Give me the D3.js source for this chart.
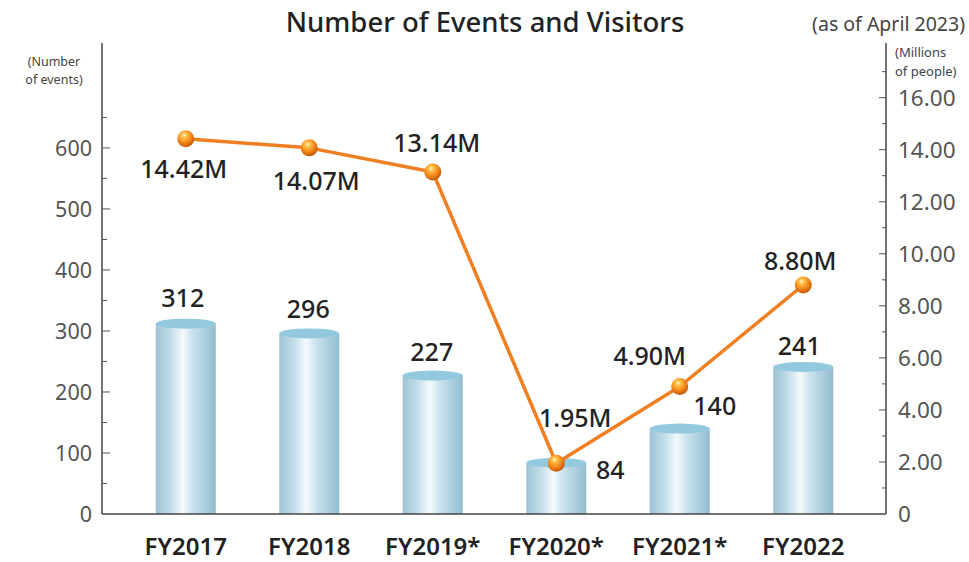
<!DOCTYPE html>
<html>
<head>
<meta charset="utf-8">
<script src="https://cdn.jsdelivr.net/npm/d3@7"></script>
<style>
    body { margin: 0; background: #fff; }
    svg { display: block; font-family: "Noto Sans", sans-serif; }
</style>
</head>
<body>
<div id="chart"></div>
<script>
// Number of events (bars) and visitors in millions (line)
const years = ['FY2017', 'FY2018', 'FY2019*', 'FY2020*', 'FY2021*', 'FY2022'];
const events = [312, 296, 227, 84, 140, 241];
const visitors = [14.42, 14.07, 13.14, 1.95, 4.90, 8.80];
const visitorLabels = ['14.42M', '14.07M', '13.14M', '1.95M', '4.90M', '8.80M'];
const leftTicks = [0, 100, 200, 300, 400, 500, 600];
const rightTicks = [0, 2, 4, 6, 8, 10, 12, 14, 16];

const W = 969, H = 562;
const plot = { left: 102, right: 886, top: 43, bottom: 514 };

// label offsets relative to the mark (dx, dy to baseline)
const barLabelPos = [[-3, -17], [-1, -15], [-1, -15], [54, 16], [35, -14], [-4, -12]];
const lineLabelPos = [[-2, 39], [7, 42], [4, -20], [19, -36], [-30, -21], [-3, -15]];

const svg = d3.select('#chart').append('svg')
    .attr('width', W)
    .attr('height', H);

const defs = svg.append('defs');

// cylinder body gradient
const barGrad = defs.append('linearGradient')
    .attr('id', 'bar-grad')
    .attr('x1', '0%').attr('x2', '100%');
[['0%', '#9cc3d6'], ['25%', '#c4dde9'], ['45%', '#f4fafd'], ['62%', '#c9e2ee'], ['100%', '#92bccf']]
    .forEach(([o, c]) => barGrad.append('stop').attr('offset', o).attr('stop-color', c));

// sphere marker gradient
const dotGrad = defs.append('radialGradient')
    .attr('id', 'dot-grad')
    .attr('cx', '42%').attr('cy', '35%').attr('r', '65%')
    .attr('fx', '40%').attr('fy', '28%');
[['0%', '#fff6c8'], ['22%', '#ffc34a'], ['60%', '#f58a1c'], ['100%', '#c45808']]
    .forEach(([o, c]) => dotGrad.append('stop').attr('offset', o).attr('stop-color', c));

// Scales
const x = d3.scaleBand()
    .domain(years)
    .range([124, 865])
    .paddingInner(0.514)
    .paddingOuter(0.257);

const yL = d3.scaleLinear()
    .domain([0, 772])
    .range([plot.bottom, plot.top]);

const yR = d3.scaleLinear()
    .domain([0, 18.1])
    .range([plot.bottom, plot.top]);

// Title
svg.append('text')
    .attr('x', 485)
    .attr('y', 32)
    .attr('text-anchor', 'middle')
    .attr('font-size', '27.5px')
    .attr('font-weight', 500)
    .attr('fill', '#222')
    .text('Number of Events and Visitors');

svg.append('text')
    .attr('x', 965)
    .attr('y', 31)
    .attr('text-anchor', 'end')
    .attr('font-size', '19.5px')
    .attr('fill', '#444')
    .text('(as of April 2023)');

// Axis unit labels, one text per line
const unitLabels = [
    { x: 54, y: 66, anchor: 'middle', size: 12.5, text: '(Number' },
    { x: 54, y: 84, anchor: 'middle', size: 12.5, text: 'of events)' },
    { x: 895, y: 57, anchor: 'start', size: 13, text: '(Millions' },
    { x: 895, y: 76, anchor: 'start', size: 13, text: 'of people)' }
];
svg.append('g')
    .selectAll('text')
    .data(unitLabels)
    .join('text')
    .attr('x', d => d.x)
    .attr('y', d => d.y)
    .attr('text-anchor', d => d.anchor)
    .attr('font-size', d => `${d.size}px`)
    .attr('fill', '#444')
    .text(d => d.text);

// Bars (cylinders)
const bars = svg.append('g');
const bw = x.bandwidth();
const ry = 5;

years.forEach((yr, i) => {
    const x0 = x(yr);
    const top = yL(events[i]);
    bars.append('rect')
        .attr('x', x0)
        .attr('y', top)
        .attr('width', bw)
        .attr('height', plot.bottom - top)
        .attr('fill', 'url(#bar-grad)');
    bars.append('ellipse')
        .attr('cx', x0 + bw / 2)
        .attr('cy', top)
        .attr('rx', bw / 2)
        .attr('ry', ry)
        .attr('fill', '#93c9df');
});

// Axes
const leftAxis = svg.append('g')
    .attr('transform', `translate(${plot.left},0)`);
leftAxis.append('line')
    .attr('y1', plot.top).attr('y2', plot.bottom)
    .attr('stroke', '#444').attr('stroke-width', 1.5);
d3.range(50, 700, 100).forEach(v => {
    leftAxis.append('line')
        .attr('x1', 0).attr('x2', 5)
        .attr('y1', yL(v)).attr('y2', yL(v))
        .attr('stroke', '#555');
});
leftTicks.forEach(v => {
    if (v > 0) {
        leftAxis.append('line')
            .attr('x1', 0).attr('x2', 8)
            .attr('y1', yL(v)).attr('y2', yL(v))
            .attr('stroke', '#555');
    }
    leftAxis.append('text')
        .attr('x', -10)
        .attr('y', yL(v))
        .attr('dy', '0.36em')
        .attr('text-anchor', 'end')
        .attr('font-size', '21.5px')
        .attr('fill', '#555')
        .text(v);
});

const rightAxis = svg.append('g')
    .attr('transform', `translate(${plot.right},0)`);
rightAxis.append('line')
    .attr('y1', plot.top).attr('y2', plot.bottom)
    .attr('stroke', '#444').attr('stroke-width', 1.5);
d3.range(1, 18, 2).forEach(v => {
    rightAxis.append('line')
        .attr('x1', 0).attr('x2', -4)
        .attr('y1', yR(v)).attr('y2', yR(v))
        .attr('stroke', '#555');
});
rightTicks.forEach(v => {
    if (v > 0) {
        rightAxis.append('line')
            .attr('x1', 0).attr('x2', -7)
            .attr('y1', yR(v)).attr('y2', yR(v))
            .attr('stroke', '#555');
    }
    rightAxis.append('text')
        .attr('x', 12)
        .attr('y', yR(v))
        .attr('dy', '0.36em')
        .attr('font-size', '22.5px')
        .attr('fill', '#555')
        .text(v === 0 ? '0' : v.toFixed(2));
});

// Baseline
svg.append('line')
    .attr('x1', plot.left).attr('x2', plot.right)
    .attr('y1', plot.bottom).attr('y2', plot.bottom)
    .attr('stroke', '#444').attr('stroke-width', 1.5);

// Category labels
svg.append('g')
    .selectAll('text')
    .data(years)
    .join('text')
    .attr('x', d => x(d) + bw / 2)
    .attr('y', 555)
    .attr('text-anchor', 'middle')
    .attr('font-size', '24px')
    .attr('font-weight', 600)
    .attr('fill', '#222')
    .text(d => d);

// Bar value labels
svg.append('g')
    .selectAll('text')
    .data(events)
    .join('text')
    .attr('x', (d, i) => x(years[i]) + bw / 2 + barLabelPos[i][0])
    .attr('y', (d, i) => yL(d) + barLabelPos[i][1])
    .attr('text-anchor', 'middle')
    .attr('font-size', '25px')
    .attr('font-weight', 500)
    .attr('fill', '#222')
    .text(d => d);

// Visitors line
const line = d3.line()
    .x((d, i) => x(years[i]) + bw / 2)
    .y(d => yR(d));

svg.append('path')
    .datum(visitors)
    .attr('fill', 'none')
    .attr('stroke', '#f07f22')
    .attr('stroke-width', 3.5)
    .attr('stroke-linejoin', 'round')
    .attr('d', line);

svg.append('g')
    .selectAll('circle')
    .data(visitors)
    .join('circle')
    .attr('cx', (d, i) => x(years[i]) + bw / 2)
    .attr('cy', d => yR(d))
    .attr('r', 8.5)
    .attr('fill', 'url(#dot-grad)');

// Visitor labels
svg.append('g')
    .selectAll('text')
    .data(visitors)
    .join('text')
    .attr('x', (d, i) => x(years[i]) + bw / 2 + lineLabelPos[i][0])
    .attr('y', (d, i) => yR(d) + lineLabelPos[i][1])
    .attr('text-anchor', 'middle')
    .attr('font-size', '25px')
    .attr('font-weight', 500)
    .attr('fill', '#222')
    .text((d, i) => visitorLabels[i]);
</script>
</body>
</html>
